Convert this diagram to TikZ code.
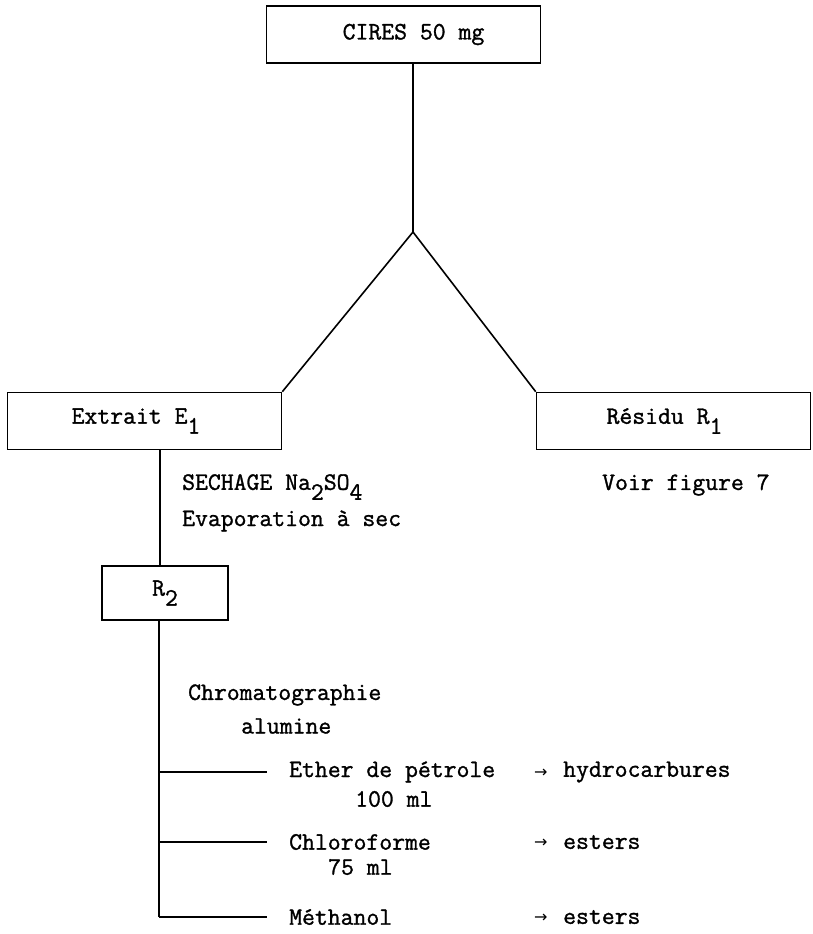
\documentclass[tikz,border=0pt]{standalone}
\usepackage{fontspec}
\setmonofont[FakeBold=1.2]{Latin Modern Mono}
\newfontfamily\arrowfont{DejaVu Sans}
\newcommand{\lowsub}[1]{\raisebox{-0.4em}{#1}}
\begin{document}
\begin{tikzpicture}[x=1pt,y=-1pt,
  every node/.style={font=\ttfamily\fontsize{25}{29}\selectfont, inner sep=0pt},
  box/.style={draw, line width=1.6pt, minimum width=274pt, minimum height=57pt},
  smallbox/.style={draw, line width=1.6pt, minimum width=126pt, minimum height=54pt},
  lbl/.style={anchor=west},
  arr/.style={anchor=west, font=\arrowfont\fontsize{16}{18}\selectfont},
  link/.style={line width=1.6pt}]
\useasboundingbox (0,0) rectangle (812,934);
\fill[white] (0,0) rectangle (812,934);
\node[box] (cires) at (403.5,34.5) {\hspace*{20pt}CIRES 50 mg};
\coordinate (apex) at (413,232);
\node[box] (extrait) at (144.5,421) {Extrait E\lowsub{1}\hspace*{17pt}};
\node[box] (residu) at (673.5,421) {Résidu R\lowsub{1}\hspace*{18pt}};
\draw[link] (cires.south -| apex) -- (apex);
\draw[link] (apex) -- (extrait.north east);
\draw[link] (apex) -- (residu.north west);
\node[lbl] (sechage) at (182,487) {SECHAGE Na\lowsub{2}SO\lowsub{4}};
\node[lbl] (evap) at (182,521) {Evaporation à sec};
\node[lbl] (voir) at (602,485) {Voir figure 7};
\node[smallbox] (r2) at (165,593) {R\lowsub{2}};
\coordinate (xa) at (160,0);
\draw[link] (extrait.south -| xa) -- (r2.north -| xa);
\node[lbl] (chrom) at (188,695) {Chromatographie};
\node[lbl] (alum) at (241,726) {alumine};
\coordinate (b1) at (159,772);
\coordinate (b2) at (159,842);
\coordinate (b3) at (159,917);
\draw[link] (r2.south -| b1) -- (b3);
\node[lbl] (ether) at (289,772) {Ether de pétrole};
\node[lbl] (ml100) at (355,799) {100 ml};
\node[lbl] (chlor) at (289,842) {Chloroforme};
\node[lbl] (ml75) at (328,867) {75 ml};
\node[lbl] (meth) at (289,917) {Méthanol};
\draw[link] (b1) -- ([xshift=-22pt]ether.west);
\draw[link] (b2) -- ([xshift=-22pt]chlor.west);
\draw[link] (b3) -- ([xshift=-22pt]meth.west);
\node[arr] (a1) at (534,773) {→};
\node[arr] (a2) at (534,843) {→};
\node[arr] (a3) at (534,918) {→};
\node[lbl] (hydro) at (563,772) {hydrocarbures};
\node[lbl] (est1) at (563,842) {esters};
\node[lbl] (est2) at (563,917) {esters};
\end{tikzpicture}
\end{document}
